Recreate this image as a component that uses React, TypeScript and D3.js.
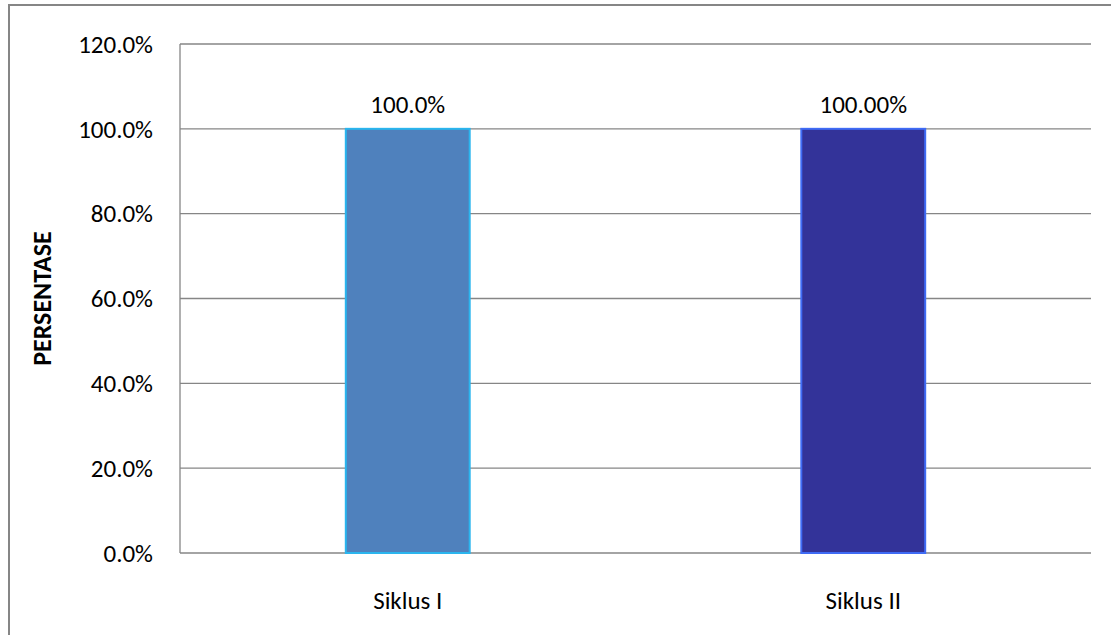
import React from "react";
import * as d3 from "d3";

const categories = ["Siklus I", "Siklus II"];
const values = [1.0, 1.0];
const valueLabels = ["100.0%", "100.00%"];
const yTicks = [0, 0.2, 0.4, 0.6, 0.8, 1.0, 1.2];
const fills = ["#4F81BD", "#333399"];
const strokes = ["#2AB5EE", "#3F6BF5"];

export default function App() {
  const W = 1111, H = 635;
  const left = 180, right = 1091, top = 44, bottom = 553;
  const y = d3.scaleLinear().domain([0, 1.2]).range([bottom, top]);
  const x = d3.scaleBand().domain(categories).range([left, right]).padding(0);
  const bw = x.bandwidth() * 0.272;
  const font = "Carlito, Calibri, Lato, 'Open Sans', sans-serif";
  const fs = 25;
  return (
    <svg width={W} height={H} style={{ position: "fixed", left: 0, top: 0, background: "#fff" }} fontFamily={font}>
      <rect x={0} y={0} width={W} height={H} fill="#fff" />
      <line x1={8} x2={W} y1={5} y2={5} stroke="#868686" strokeWidth={2} />
      <line x1={9} x2={9} y1={5} y2={H} stroke="#868686" strokeWidth={2} />
      {yTicks.map((t) => (
        <g key={t}>
          <line x1={left} x2={right} y1={y(t)} y2={y(t)} stroke="#868686" strokeWidth={1.3} />
          <text x={153} y={y(t)} dy="0.35em" textAnchor="end" fontSize={fs} fill="#000">
            {d3.format(".1%")(t)}
          </text>
        </g>
      ))}
      <line x1={left} x2={left} y1={top} y2={bottom} stroke="#868686" strokeWidth={1.3} />
      {categories.map((c, i) => {
        const cx = (x(c) as number) + x.bandwidth() / 2;
        return (
          <g key={c}>
            <rect x={cx - bw / 2} y={y(values[i])} width={bw} height={bottom - y(values[i])} fill={fills[i]} stroke={strokes[i]} strokeWidth={2} />
            <text x={cx} y={y(values[i]) - 25} dy="0.35em" textAnchor="middle" fontSize={fs} fill="#000">
              {valueLabels[i]}
            </text>
            <text x={cx} y={600} dy="0.35em" textAnchor="middle" fontSize={fs} fill="#000">
              {c}
            </text>
          </g>
        );
      })}
      <text transform={`translate(42,${(top + bottom) / 2}) rotate(-90)`} textAnchor="middle" dy="0.35em" fontSize={26} fontWeight="bold" fill="#000">
        PERSENTASE
      </text>
    </svg>
  );
}
